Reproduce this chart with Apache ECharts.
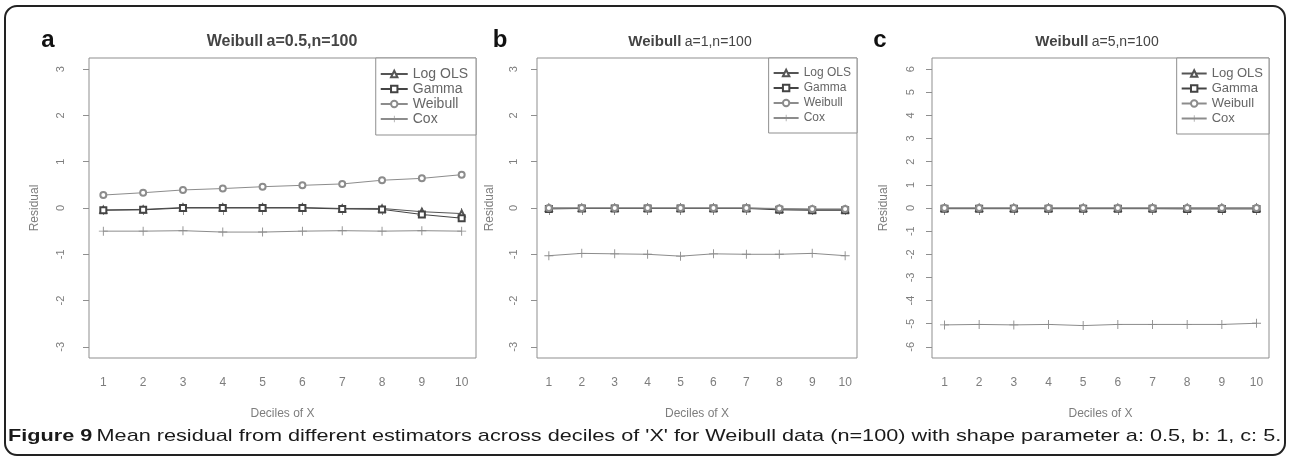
<!DOCTYPE html>
<html>
<head>
<meta charset="utf-8">
<title>Figure 9</title>
<script src="https://cdn.jsdelivr.net/npm/echarts/dist/echarts.min.js"></script>
<style>
  html, body { margin: 0; padding: 0; background: #fff; }
  #chart { width: 1290px; height: 463px; }
</style>
</head>
<body>
<div id="chart"></div>
<script>
// deciles of X
const deciles = [1, 2, 3, 4, 5, 6, 7, 8, 9, 10];
const seriesNames = ["Log OLS", "Gamma", "Weibull", "Cox"];

// panel a: Weibull a=0.5
const aLogOLS = [-0.04, -0.03, 0.01, 0.01, 0.01, 0.01, -0.01, -0.01, -0.08, -0.12];
const aGamma = [-0.05, -0.04, 0.0, 0.0, 0.0, 0.0, -0.02, -0.03, -0.14, -0.22];
const aWeibull = [0.28, 0.33, 0.39, 0.42, 0.46, 0.49, 0.52, 0.6, 0.64, 0.72];
const aCox = [-0.5, -0.5, -0.49, -0.52, -0.52, -0.5, -0.49, -0.5, -0.49, -0.5];

// panel b: Weibull a=1
const bLogOLS = [0, 0, 0, 0, 0, 0, 0, -0.02, -0.03, -0.03];
const bGamma = [-0.02, -0.01, -0.01, -0.01, -0.01, -0.01, -0.01, -0.04, -0.05, -0.05];
const bWeibull = [0, 0, 0, 0, 0, 0, 0, -0.01, -0.02, -0.02];
const bCox = [-1.03, -0.98, -0.99, -1.0, -1.04, -0.99, -1.0, -1.0, -0.98, -1.03];

// panel c: Weibull a=5
const cLogOLS = [0, 0, 0, 0, 0, 0, 0, 0, 0, 0];
const cGamma = [-0.03, -0.03, -0.03, -0.03, -0.03, -0.03, -0.03, -0.04, -0.04, -0.04];
const cWeibull = [0, 0, 0, 0, 0, 0, 0, 0, 0, 0];
const cCox = [-5.05, -5.03, -5.05, -5.03, -5.08, -5.03, -5.03, -5.03, -5.03, -4.98];

// tick labels
const xTicks = deciles;
const yTicksAB = [-3, -2, -1, 0, 1, 2, 3];
const yTicksC = [-6, -5, -4, -3, -2, -1, 0, 1, 2, 3, 4, 5, 6];

const captionBold = "Figure 9";
const captionText = "Mean residual from different estimators across deciles of 'X' for Weibull data (n=100) with shape parameter a: 0.5, b: 1, c: 5.";

const axisGray = "#8f8f8f";
const labelGray = "#7d7d7d";
const font = "Liberation Sans, Arial, sans-serif";

const plusPath = "path://M4.5,0 L5.5,0 L5.5,4.5 L10,4.5 L10,5.5 L5.5,5.5 L5.5,10 L4.5,10 L4.5,5.5 L0,5.5 L0,4.5 L4.5,4.5 Z";
const styles = [
  { symbol: "emptyTriangle", color: "#555" },
  { symbol: "emptyRect", color: "#444" },
  { symbol: "emptyCircle", color: "#8c8c8c" },
  { symbol: plusPath, color: "#8c8c8c" }
];

function panelSeries(gi, arrays) {
  return arrays.map(function (vals, i) {
    const st = styles[i];
    const isPlus = i === 3;
    return {
      name: seriesNames[i],
      type: "line",
      xAxisIndex: gi,
      yAxisIndex: gi,
      data: deciles.map(function (d, k) { return [d, vals[k]]; }),
      symbol: st.symbol,
      symbolSize: isPlus ? 9 : 6,
      showSymbol: true,
      lineStyle: { color: st.color, width: 1 },
      itemStyle: isPlus ? { color: st.color } : { color: st.color, borderColor: st.color, borderWidth: 1 },
      emphasis: { disabled: true },
      z: 2 + i
    };
  });
}

const grids = [
  { left: 89, top: 58, width: 387, height: 300 },
  { left: 537, top: 58, width: 320, height: 300 },
  { left: 932, top: 58, width: 337, height: 300 }
];

function xAxisFor(gi) {
  return {
    type: "value", gridIndex: gi, min: 0.64, max: 10.36,
    name: "Deciles of X", nameLocation: "middle", nameGap: 50,
    nameTextStyle: { color: labelGray, fontSize: 12, fontFamily: font },
    axisLine: { show: false },
    splitLine: { show: false },
    axisTick: { show: true, length: 7, customValues: xTicks, lineStyle: { color: axisGray } },
    axisLabel: { customValues: xTicks, margin: 19, color: labelGray, fontSize: 12, fontFamily: font }
  };
}

function yAxisFor(gi, lim, ticks, nameGap, labelMargin) {
  return {
    type: "value", gridIndex: gi, min: -lim, max: lim,
    name: "Residual", nameLocation: "middle", nameGap: nameGap, nameRotate: 90,
    nameTextStyle: { color: labelGray, fontSize: 12, fontFamily: font },
    axisLine: { show: false },
    splitLine: { show: false },
    axisTick: { show: true, length: 6, customValues: ticks, lineStyle: { color: axisGray } },
    axisLabel: { customValues: ticks, rotate: 90, margin: labelMargin, color: labelGray, fontSize: 11, fontFamily: font }
  };
}

function legendFor(rightEdge, fontSize, itemWidth, padRight) {
  return {
    orient: "vertical", right: 1290 - rightEdge, top: 58,
    backgroundColor: "#fff", borderColor: axisGray, borderWidth: 1,
    padding: [9, padRight, 9, 4], itemGap: 15 - fontSize, itemWidth: itemWidth, itemHeight: 8,
    selectedMode: false, data: seriesNames,
    textStyle: { color: "#666", fontSize: fontSize, fontFamily: font }
  };
}

function titleText(x, rest, uniform) {
  return {
    type: "text", x: x, y: 42,
    style: {
      text: "{w|Weibull} {r|" + rest + "}",
      textAlign: "center", textVerticalAlign: "middle",
      rich: {
        w: { fontSize: uniform ? 16 : 15, fontWeight: "bold", fill: "#444", fontFamily: font },
        r: { fontSize: uniform ? 16 : 14, fontWeight: uniform ? "bold" : "normal", fill: "#444", fontFamily: font }
      }
    }
  };
}

function letter(x, t) {
  return {
    type: "text", x: x, y: 40,
    style: { text: t, textAlign: "center", textVerticalAlign: "middle", fontSize: 24, fontWeight: "bold", fill: "#111", fontFamily: font }
  };
}

// stretch caption so it spans the frame like the printed figure
const capFont = "Liberation Sans, Arial, sans-serif";
const ctx = document.createElement("canvas").getContext("2d");
ctx.font = "bold 17px " + capFont;
let capW = ctx.measureText(captionBold + " ").width;
ctx.font = "17px " + capFont;
capW += ctx.measureText(captionText).width;
const capScale = 1275 / capW;

const chart = echarts.init(document.getElementById("chart"), null, { renderer: "canvas" });
chart.setOption({
  animation: false,
  backgroundColor: "#fff",
  grid: grids.map(function (g) {
    return Object.assign({ show: true, borderColor: axisGray, borderWidth: 1, backgroundColor: "transparent", containLabel: false }, g);
  }),
  xAxis: [xAxisFor(0), xAxisFor(1), xAxisFor(2)],
  yAxis: [
    yAxisFor(0, 3.24, yTicksAB, 48, 23),
    yAxisFor(1, 3.24, yTicksAB, 41, 18),
    yAxisFor(2, 6.48, yTicksC, 42, 16)
  ],
  legend: [legendFor(476, 14, 27, 8), legendFor(857, 12, 25, 6), legendFor(1269, 13, 25, 6)],
  series: []
    .concat(panelSeries(0, [aLogOLS, aGamma, aWeibull, aCox]))
    .concat(panelSeries(1, [bLogOLS, bGamma, bWeibull, bCox]))
    .concat(panelSeries(2, [cLogOLS, cGamma, cWeibull, cCox])),
  graphic: [
    {
      type: "rect", shape: { x: 5, y: 6, width: 1280, height: 449, r: 12 },
      style: { fill: "none", stroke: "#222", lineWidth: 2 }, z: -1
    },
    letter(48, "a"), letter(500, "b"), letter(880, "c"),
    titleText(282, "a=0.5,n=100", true), titleText(690, "a=1,n=100", false), titleText(1097, "a=5,n=100", false),
    {
      type: "text", x: 8, y: 436, scaleX: capScale,
      style: {
        text: "{b|" + captionBold + "} {n|" + captionText + "}",
        textVerticalAlign: "middle",
        rich: {
          b: { fontSize: 17, fontWeight: "bold", fill: "#1a1a1a", fontFamily: capFont },
          n: { fontSize: 17, fill: "#1a1a1a", fontFamily: capFont }
        }
      }
    }
  ]
});
</script>
</body>
</html>
